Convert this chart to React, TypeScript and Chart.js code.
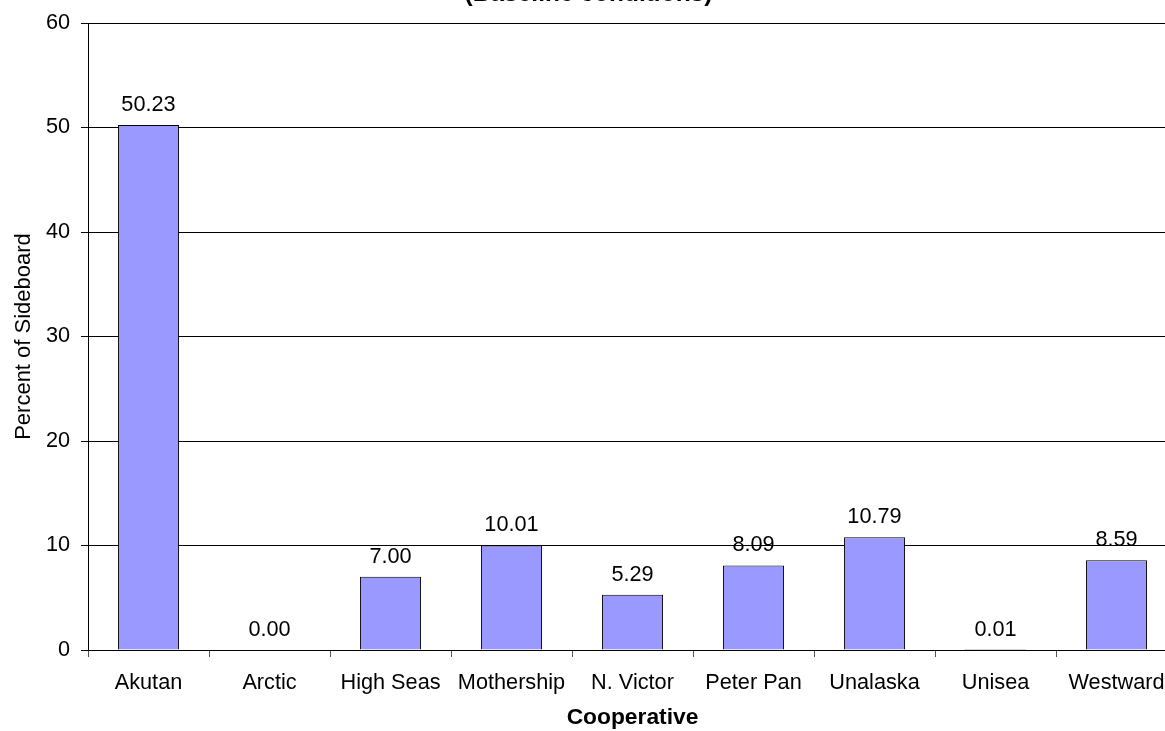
import React, { useEffect, useRef } from "react";
import { Chart, registerables } from "chart.js";

Chart.register(...registerables);

const chartTitle = "(Baseline conditions)";
const cooperatives = [
  "Akutan",
  "Arctic",
  "High Seas",
  "Mothership",
  "N. Victor",
  "Peter Pan",
  "Unalaska",
  "Unisea",
  "Westward",
];
const percentOfSideboard = [50.23, 0.0, 7.0, 10.01, 5.29, 8.09, 10.79, 0.01, 8.59];
const yTitle = "Percent of Sideboard";
const xTitle = "Cooperative";
const yMin = 0;
const yMax = 60;
const yStep = 10;

const FONT = "'Liberation Sans', Arial, sans-serif";

// Writes each bar's value, two decimals, just above the bar top.
const valueLabels = {
  id: "valueLabels",
  afterDatasetsDraw(chart: any) {
    const ctx = chart.ctx;
    const meta = chart.getDatasetMeta(0);
    ctx.save();
    ctx.font = `21.7px ${FONT}`;
    ctx.fillStyle = "#000";
    ctx.textAlign = "center";
    ctx.textBaseline = "alphabetic";
    meta.data.forEach((el: any, i: number) => {
      const v = chart.data.datasets[0].data[i] as number;
      ctx.fillText(v.toFixed(2), el.x, el.y - 14);
    });
    ctx.restore();
  },
};

export default function App() {
  const ref = useRef<HTMLCanvasElement>(null);

  useEffect(() => {
    const canvas = ref.current;
    if (!canvas) return;
    const chart = new Chart(canvas, {
      type: "bar",
      data: {
        labels: cooperatives,
        datasets: [
          {
            data: percentOfSideboard,
            backgroundColor: "#9999FF",
            borderColor: "#000000",
            borderWidth: 1,
            barPercentage: 1,
            categoryPercentage: 0.505,
          },
        ],
      },
      options: {
        responsive: false,
        animation: false,
        layout: { padding: { left: 0, right: 20, top: 0, bottom: 0 } },
        plugins: {
          legend: { display: false },
          tooltip: { enabled: false },
          title: {
            display: true,
            text: chartTitle,
            color: "#000",
            font: { family: FONT, size: 24.5, weight: "bold", lineHeight: 1.2 },
            padding: { top: 0, bottom: 13.6 },
          },
        },
        scales: {
          x: {
            afterFit: (scale: any) => {
              scale.height = 81;
            },
            grid: {
              display: true,
              offset: true,
              drawOnChartArea: false,
              drawTicks: true,
              tickLength: 7,
              color: "#555",
            },
            border: { display: true, color: "#000", width: 1 },
            ticks: {
              color: "#000",
              font: { family: FONT, size: 21.7 },
              padding: 13,
              maxRotation: 0,
              autoSkip: false,
            },
            title: {
              display: true,
              text: xTitle,
              color: "#000",
              font: { family: FONT, size: 22.8, weight: "bold", lineHeight: 1.2 },
              padding: { top: 0, bottom: 0 },
            },
          },
          y: {
            min: yMin,
            max: yMax,
            afterFit: (scale: any) => {
              scale.width = 88;
            },
            grid: {
              color: "#000",
              lineWidth: 1,
              drawTicks: true,
              tickLength: 7,
            },
            border: { display: true, color: "#000", width: 1 },
            ticks: {
              stepSize: yStep,
              color: "#000",
              font: { family: FONT, size: 21.7 },
              padding: 11,
            },
            title: {
              display: true,
              text: yTitle,
              color: "#000",
              font: { family: FONT, size: 22, lineHeight: 1.2 },
              padding: { top: 10.8, bottom: 0 },
            },
          },
        },
      },
      plugins: [valueLabels],
    });
    return () => chart.destroy();
  }, []);

  return (
    <div
      style={{
        position: "fixed",
        left: 0,
        top: 0,
        width: 1165,
        height: 731,
        overflow: "hidden",
        background: "#fff",
      }}
    >
      <canvas
        ref={ref}
        width={1197}
        height={751}
        style={{ position: "absolute", left: 0, top: -20, width: 1197, height: 751 }}
      />
    </div>
  );
}
